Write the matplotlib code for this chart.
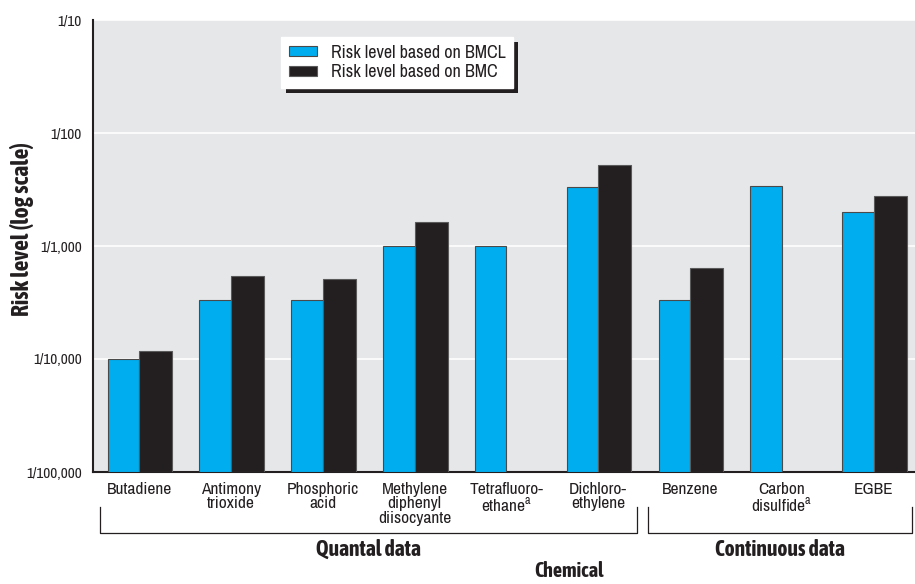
import matplotlib
matplotlib.use('Agg')
import matplotlib.pyplot as plt
from matplotlib.patches import Rectangle
import matplotlib.transforms as mtransforms
import numpy as np

# ---- data ----
chemicals = ["Butadiene", "Antimony\ntrioxide", "Phosphoric\nacid",
             "Methylene\ndiphenyl\ndiisocyante", "Tetrafluoro-\nethane$^{\\rm a}$",
             "Dichloro-\nethylene", "Benzene", "Carbon\ndisulfide$^{\\rm a}$", "EGBE"]
bmcl = [1.0e-4, 3.33e-4, 3.33e-4, 1.0e-3, 1.0e-3, 3.35e-3, 3.3e-4, 3.4e-3, 2.0e-3]
bmc = [1.17e-4, 5.46e-4, 5.1e-4, 1.62e-3, np.nan, 5.25e-3, 6.38e-4, np.nan, 2.79e-3]
ytick_vals = [1e-5, 1e-4, 1e-3, 1e-2, 1e-1]
ytick_labels = ["1/100,000", "1/10,000", "1/1,000", "1/100", "1/10"]
group_names = ["Quantal data", "Continuous data"]
group_spans = [(-0.43, 5.42), (5.54, 8.42)]
series_names = ["Risk level based on BMCL", "Risk level based on BMC"]

FONT = ['Archivo Narrow', 'DejaVu Sans']
BOLD = ['Asap Condensed', 'DejaVu Sans']
plt.rcParams['font.family'] = FONT
plt.rcParams['mathtext.fontset'] = 'custom'
plt.rcParams['mathtext.rm'] = 'Archivo Narrow'

BLUE = '#00adef'
BLACK = '#231f20'
BG = '#e6e7e8'

fig = plt.figure(figsize=(9.15, 5.84), dpi=100)
ax = fig.add_axes([93/915, (584-472)/584, (915-93)/915, (472-20)/584])
ax.set_facecolor(BG)
ax.set_yscale('log')
ax.set_ylim(1e-5, 1e-1)
ax.set_xlim(-0.503, 8.451)

x = np.arange(len(chemicals))
w = 0.343
base = 1e-5
bmcl_a = np.array(bmcl)
bmc_a = np.array(bmc)
ax.bar(x - w, bmcl_a - base, width=w, bottom=base, align='edge', color=BLUE,
       edgecolor='#4a4a4a', linewidth=0.8, label=series_names[0], zorder=3)
mask = ~np.isnan(bmc_a)
ax.bar(x[mask], bmc_a[mask] - base, width=w*1.05, bottom=base, align='edge', color=BLACK,
       edgecolor='#5a5a5a', linewidth=0.8, label=series_names[1], zorder=3)

ax.set_yticks(ytick_vals)
ax.set_yticklabels(ytick_labels)
ax.yaxis.set_minor_locator(matplotlib.ticker.NullLocator())
ax.tick_params(axis='y', length=0, pad=8, labelsize=11, colors=BLACK)
ax.set_xticks(x)
ax.set_xticklabels(chemicals, linespacing=0.95)
ax.tick_params(axis='x', length=0, pad=7, labelsize=12.5, colors=BLACK)
ax.grid(axis='y', which='major', color='white', linewidth=1.2, zorder=0)
ax.set_axisbelow(True)
for s in ['top', 'right']:
    ax.spines[s].set_visible(False)
for s in ['left', 'bottom']:
    ax.spines[s].set_color(BLACK)
    ax.spines[s].set_linewidth(1.5)

ax.set_ylabel("Risk level (log scale)", fontsize=17, fontweight='bold', family=BOLD,
              color=BLACK, va='center')
ax.yaxis.set_label_coords((22.5-93)/822, (472-229)/452)

# group brackets
trans = mtransforms.blended_transform_factory(ax.transData, ax.transAxes)
y_top = (472-507)/452
y_bot = (472-533)/452
for (x0, x1), name in zip(group_spans, group_names):
    ax.plot([x0, x0, x1, x1], [y_top, y_bot, y_bot, y_top], color=BLACK, lw=0.9,
            transform=trans, clip_on=False)
    ax.text((x0 + x1) / 2, (472-550)/452, name, transform=trans, ha='center', va='center',
            fontsize=15.5, fontweight='bold', family=BOLD, color=BLACK)
ax.text((569-93)/822, (472-571)/452, "Chemical", transform=ax.transAxes, ha='center',
        va='center', fontsize=14.5, fontweight='bold', family=BOLD, color=BLACK)

# legend
leg = ax.legend(loc='upper left', bbox_to_anchor=((281-93)/822, (472-37)/452),
                frameon=True, fancybox=False, fontsize=13, handlelength=1.55, handleheight=0.45,
                handletextpad=0.8, borderpad=0.42, labelspacing=0.2, borderaxespad=0)
leg.get_frame().set_facecolor('white')
leg.get_frame().set_edgecolor('white')
leg.get_frame().set_alpha(1)
leg.set_zorder(10)
for t in leg.get_texts():
    t.set_color(BLACK)

fig.canvas.draw()
bb = leg.get_window_extent()
sh = Rectangle((bb.x0 + 5, bb.y0 - 5), bb.width, bb.height, transform=None,
               facecolor=BLACK, edgecolor='none', zorder=9)
ax.add_artist(sh)
sh.set_clip_on(False)

fig.savefig('out.png', dpi=100)
